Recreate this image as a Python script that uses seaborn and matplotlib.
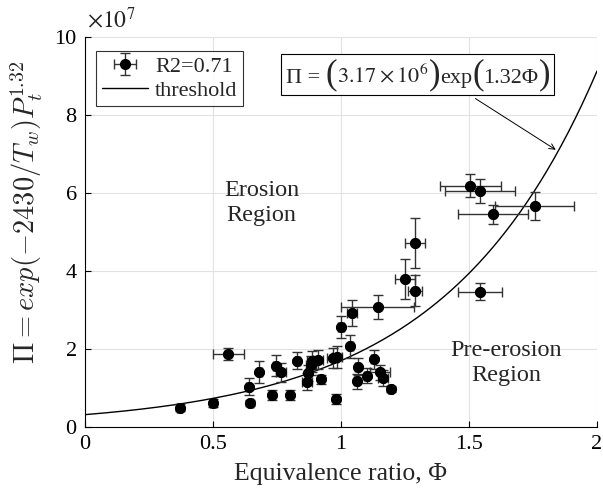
import numpy as np
import pandas as pd
import seaborn as sns
import matplotlib.pyplot as plt
from matplotlib.ticker import FuncFormatter
from matplotlib.offsetbox import TextArea, HPacker, AnnotationBbox

# equivalence ratio and Pi (in units of 1e7), with error bars
phi = [0.37, 0.50, 0.56, 0.64, 0.645, 0.68, 0.73, 0.745, 0.765, 0.80,
       0.83, 0.866, 0.872, 0.882, 0.888, 0.91, 0.92, 0.967, 0.983, 0.98,
       1.00, 1.037, 1.044, 1.061, 1.065, 1.10, 1.127, 1.143, 1.152, 1.165,
       1.194, 1.251, 1.29, 1.29, 1.505, 1.543, 1.593, 1.757, 1.543]
pi_val = [0.50, 0.61, 1.87, 1.03, 0.61, 1.40, 0.82, 1.57, 1.40, 0.82,
          1.70, 1.16, 1.38, 1.58, 1.68, 1.73, 1.22, 1.77, 1.80, 0.72,
          2.56, 2.07, 2.92, 1.17, 1.55, 1.32, 1.74, 3.07, 1.40, 1.26,
          0.98, 3.80, 4.72, 3.49, 6.19, 6.05, 5.45, 5.67, 3.47]
phi_err = [0.01, 0.01, 0.06, 0.01, 0.01, 0.01, 0.01, 0.01, 0.02, 0.01,
           0.01, 0.02, 0.01, 0.02, 0.02, 0.02, 0.01, 0.02, 0.02, 0.01,
           0.01, 0.01, 0.02, 0.01, 0.01, 0.01, 0.01, 0.144, 0.04, 0.02,
           0.01, 0.04, 0.04, 0.027, 0.12, 0.137, 0.137, 0.154, 0.087]
pi_err = [0.08, 0.10, 0.15, 0.22, 0.08, 0.28, 0.12, 0.27, 0.25, 0.12,
          0.22, 0.22, 0.20, 0.25, 0.28, 0.25, 0.12, 0.25, 0.28, 0.12,
          0.28, 0.30, 0.34, 0.20, 0.22, 0.20, 0.24, 0.31, 0.20, 0.20,
          0.08, 0.52, 0.64, 0.40, 0.29, 0.30, 0.25, 0.35, 0.21]

# threshold curve Pi = A exp(k Phi), A in units of 1e7
thr_coef = 0.317
thr_rate = 1.68

sns.set_style("white")
plt.rcParams['font.family'] = ['Liberation Serif', 'DejaVu Serif']
plt.rcParams['mathtext.fontset'] = 'stix'

fig = plt.figure(figsize=(6.03, 5.01), dpi=100)
ax = fig.add_axes([85 / 603, 74 / 501, 512 / 603, 390 / 501])

df = pd.DataFrame({'phi': phi, 'pi': pi_val})

# error bars (also gives the legend handle)
eb = ax.errorbar(phi, pi_val, xerr=phi_err, yerr=pi_err, fmt='o',
                 color='black', ecolor='#333333', elinewidth=1, capsize=3.5,
                 capthick=1, markersize=7, label='R2=0.71', zorder=3)
sns.scatterplot(data=df, x='phi', y='pi', color='black', s=50,
                edgecolor='black', zorder=4, ax=ax, legend=False)

phi_line = np.linspace(0, 2, 300)
sns.lineplot(x=phi_line, y=thr_coef * np.exp(thr_rate * phi_line),
             color='black', lw=1, label='threshold', ax=ax, zorder=2)

ax.set_xlim(0, 2)
ax.set_ylim(0, 10)
ax.set_xticks(np.arange(0, 2.01, 0.5))
ax.set_yticks(np.arange(0, 10.1, 2))
ax.xaxis.set_major_formatter(FuncFormatter(lambda v, _: f'{v:g}'))
ax.yaxis.set_major_formatter(FuncFormatter(lambda v, _: f'{v:g}'))
ax.grid(True, color='#e2e2e2', lw=0.8)
ax.set_axisbelow(True)
for s in ['top', 'right']:
    ax.spines[s].set_visible(False)
for s in ['left', 'bottom']:
    ax.spines[s].set_color('black')
    ax.spines[s].set_linewidth(0.8)
ax.tick_params(direction='in', length=4, width=0.8, labelsize=16,
               left=True, bottom=True, colors='black', pad=6)

ax.set_xlabel('Equivalence ratio, Φ', fontsize=18.5, labelpad=6)
ax.set_ylabel(r'$\Pi = exp(-2430/T_w)P_t^{1.32}$', fontsize=20.5,
              math_fontfamily='cm')
ax.yaxis.set_label_coords(-0.078, 0.55)
ax.text(0.003, 1.012, r'$\times10^{7}$', transform=ax.transAxes,
        fontsize=17, ha='left', va='bottom')

handles, labels = ax.get_legend_handles_labels()
order = [labels.index('R2=0.71'), labels.index('threshold')]
leg = ax.legend([handles[i] for i in order], [labels[i] for i in order],
                loc='upper left', bbox_to_anchor=(0.022, 0.965), fontsize=16,
                frameon=True, fancybox=False, edgecolor='black',
                borderpad=0.25, labelspacing=0.15, handlelength=2.1,
                handletextpad=0.3, borderaxespad=0)
leg.get_frame().set_linewidth(0.8)

# threshold formula box with tall parentheses
parts = [('Π = ', 16), ('(', 25), (r'$3.17\times10^{6}$', 16), (')', 25),
         ('exp', 16), ('(', 25), ('1.32Φ', 16), (')', 25)]
formula = HPacker(children=[TextArea(t, textprops=dict(fontsize=s))
                            for t, s in parts],
                  align='baseline', pad=0, sep=0)
ab = AnnotationBbox(formula, (1.30, 9.04), xycoords='data', frameon=True,
                    pad=0.2, box_alignment=(0.5, 0.5),
                    bboxprops=dict(boxstyle='square', fc='white',
                                   ec='black', lw=0.8))
ax.add_artist(ab)
ax.annotate('', xy=(1.848, thr_coef * np.exp(thr_rate * 1.848)),
            xytext=(1.516, 8.46),
            arrowprops=dict(arrowstyle='->', color='black', lw=0.7))

ax.text(0.69, 5.74, 'Erosion\nRegion', fontsize=17.5, ha='center',
        va='center', linespacing=1.25)
ax.text(1.645, 1.64, 'Pre-erosion\nRegion', fontsize=17.5, ha='center',
        va='center', linespacing=1.25)

fig.savefig('out.png', dpi=100)
